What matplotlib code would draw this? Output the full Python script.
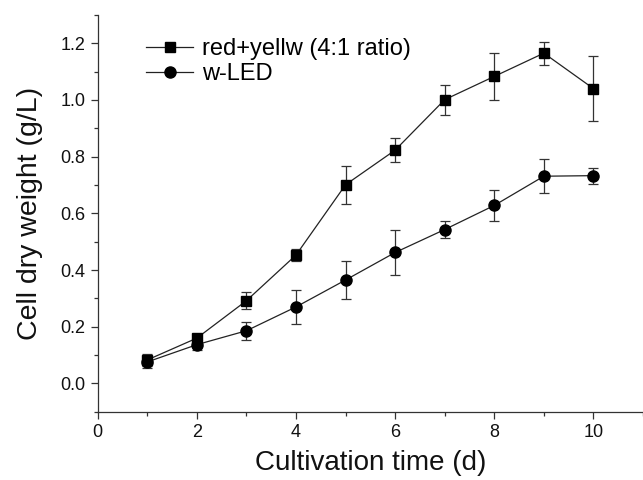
import numpy as np
import matplotlib
matplotlib.use("Agg")
import matplotlib.pyplot as plt
from matplotlib.ticker import MultipleLocator, FormatStrFormatter
from matplotlib.lines import Line2D

plt.rcParams['font.family'] = ['Liberation Sans', 'DejaVu Sans']

days = [1, 2, 3, 4, 5, 6, 7, 8, 9, 10]
red_yellow = [0.083, 0.160, 0.292, 0.453, 0.701, 0.823, 1.001, 1.083, 1.165, 1.040]
red_yellow_err = [0.02, 0.01, 0.031, 0.021, 0.067, 0.042, 0.053, 0.084, 0.040, 0.115]
w_led = [0.076, 0.137, 0.186, 0.270, 0.365, 0.462, 0.543, 0.628, 0.731, 0.733]
w_led_err = [0.02, 0.02, 0.031, 0.06, 0.066, 0.078, 0.031, 0.056, 0.059, 0.028]
labels = ['red+yellw (4:1 ratio)', 'w-LED']

fig = plt.figure(figsize=(6.43, 4.8), dpi=100)
ax = fig.add_axes([0.152, 0.142, 0.848, 0.827])

line_col = '#222222'
ax.errorbar(days, red_yellow, yerr=red_yellow_err, color=line_col, lw=0.9,
            marker='s', ms=7, mfc='black', mec='black', ecolor='#333333',
            elinewidth=0.9, capsize=3.5, capthick=0.9)
ax.errorbar(days, w_led, yerr=w_led_err, color=line_col, lw=0.9,
            marker='o', ms=8, mfc='black', mec='black', ecolor='#333333',
            elinewidth=0.9, capsize=3.5, capthick=0.9)

ax.set_xlim(0, 11)
ax.set_ylim(-0.1, 1.3)
ax.xaxis.set_major_locator(MultipleLocator(2))
ax.xaxis.set_minor_locator(MultipleLocator(1))
ax.yaxis.set_major_locator(MultipleLocator(0.2))
ax.yaxis.set_minor_locator(MultipleLocator(0.1))
ax.yaxis.set_major_formatter(FormatStrFormatter('%.1f'))

ax.spines['top'].set_visible(False)
ax.spines['right'].set_visible(False)
for s in ['left', 'bottom']:
    ax.spines[s].set_color('#333333')
    ax.spines[s].set_linewidth(0.9)
ax.tick_params(which='major', direction='out', length=5, width=0.9, color='#333333',
               labelsize=13, labelcolor='#111111', pad=4)
ax.tick_params(which='minor', direction='out', length=3, width=0.9, color='#333333')

ax.set_xlabel('Cultivation time (d)', fontsize=20, color='#111111', labelpad=6)
ax.set_ylabel('Cell dry weight (g/L)', fontsize=20.5, color='#111111', labelpad=12)

handles = [
    Line2D([], [], color=line_col, lw=0.9, marker='s', ms=7, mfc='black', mec='black'),
    Line2D([], [], color=line_col, lw=0.9, marker='o', ms=8, mfc='black', mec='black'),
]
ax.legend(handles, labels, loc='upper left', bbox_to_anchor=(0.05, 0.995), frameon=False,
          fontsize=17, handlelength=2.0, handletextpad=0.35, labelspacing=0.12)

fig.savefig('out.png', dpi=100)
